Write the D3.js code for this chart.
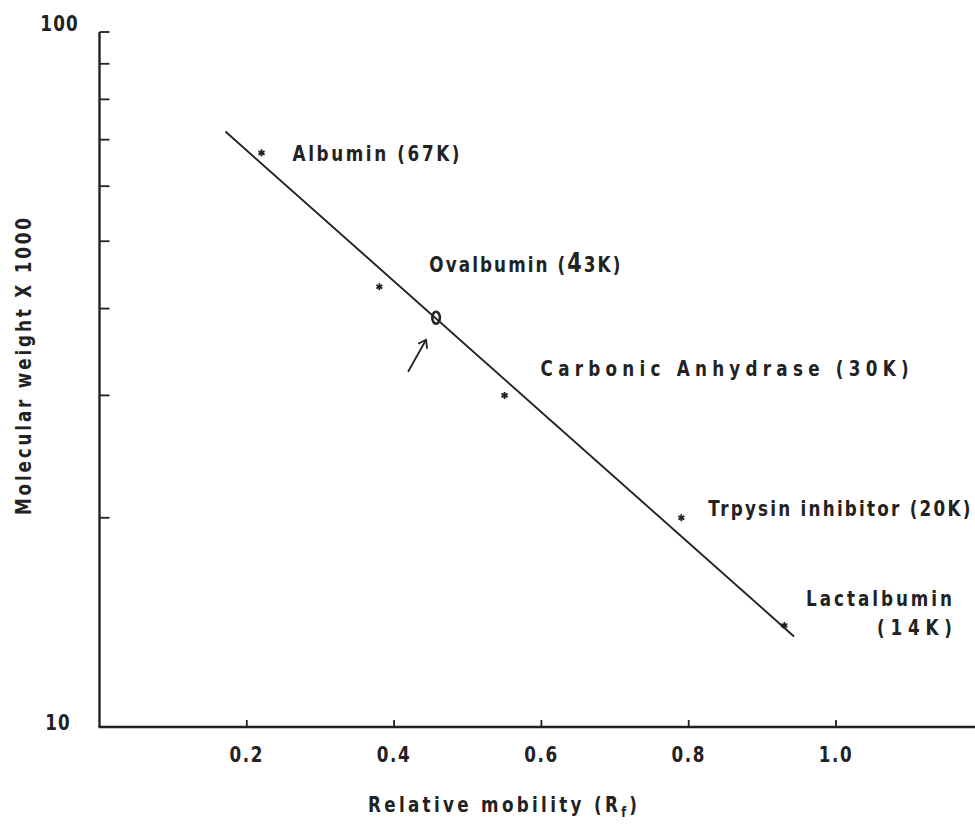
<html>
<head>
<style>
body { margin: 0; background: #fff; }
text { font-family: "DejaVu Sans", sans-serif; font-weight: bold; fill: #222; }
</style>
</head>
<body>
<svg id="chart"></svg>
<script src="https://cdnjs.cloudflare.com/ajax/libs/d3/7.8.5/d3.min.js"></script>
<script type="text/javascript">

// protein markers (Rf, MW x 1000)
var proteins = ["Albumin (67K)", "Ovalbumin (43K)", "Carbonic  Anhydrase (30K)", "Trpysin inhibitor (20K)", "Lactalbumin (14K)"]
var rf = [0.22, 0.38, 0.55, 0.79, 0.93]
var mw = [67, 43, 30, 20, 14]

// unknown sample
var sampleRf = 0.457
var sampleMw = 38.8

// fitted line ends
var fitRf = [0.171, 0.943]
var fitMw = [71.9, 13.5]

var xTicks = [0.2, 0.4, 0.6, 0.8, 1.0]
var yTicks = [10, 20, 30, 40, 50, 60, 70, 80, 90, 100]
var yLabels = [10, 100]

var W = 975, H = 824
var svg = d3.select("#chart").attr("width", W).attr("height", H)

var x = d3.scaleLinear().domain([0, 1]).range([99.5, 836])
var y = d3.scaleLog().domain([10, 100]).range([727, 32])

// narrow, spaced lettering like the typed original
var sx = 0.8
function narrow(px, py, len, rot) {
  var t = svg.append("text")
    .attr("transform", "translate(" + px + "," + py + ")" + (rot ? " rotate(" + rot + ")" : "") + " scale(" + sx + ",1)")
    .attr("font-size", 21)
  if (len) t.attr("textLength", len / sx).attr("lengthAdjust", "spacing")
  return t
}

// axes lines
svg.append("line")
  .attr("x1", x(0)).attr("x2", x(0))
  .attr("y1", y(100)).attr("y2", y(10))
  .attr("stroke", "#222").attr("stroke-width", 2.4)
svg.append("line")
  .attr("x1", x(0) - 1).attr("x2", W)
  .attr("y1", y(10)).attr("y2", y(10))
  .attr("stroke", "#222").attr("stroke-width", 2.4)

// y ticks point inward
svg.selectAll(".yt").data(yTicks.slice(1)).enter().append("line")
  .attr("x1", x(0)).attr("x2", x(0) + 10)
  .attr("y1", function(d) { return y(d) }).attr("y2", function(d) { return y(d) })
  .attr("stroke", "#222").attr("stroke-width", 1.8)

yLabels.forEach(function(d) {
  narrow(d == 100 ? 79 : 71, y(d) + (d == 100 ? -1 : 3))
    .attr("text-anchor", "end").attr("letter-spacing", 1.5).text(d)
})

// x ticks point up
svg.selectAll(".xt").data(xTicks).enter().append("line")
  .attr("x1", function(d) { return x(d) }).attr("x2", function(d) { return x(d) })
  .attr("y1", y(10)).attr("y2", y(10) - 7)
  .attr("stroke", "#222").attr("stroke-width", 1.8)

xTicks.forEach(function(d) {
  narrow(x(d), y(10) + 35)
    .attr("text-anchor", "middle").attr("letter-spacing", 2)
    .text(d3.format(".1f")(d))
})

// axis titles
var xt = narrow(368, 812, 269)
xt.append("tspan").text("Relative  mobility  (R")
xt.append("tspan").attr("font-size", 14).attr("dy", 5).text("f")
xt.append("tspan").attr("dy", -5).text(")")

narrow(31, 515, 297, -90).text("Molecular  weight  X  1000")

// fitted line
svg.append("line")
  .attr("x1", x(fitRf[0])).attr("y1", y(fitMw[0]))
  .attr("x2", x(fitRf[1])).attr("y2", y(fitMw[1]))
  .attr("stroke", "#222").attr("stroke-width", 1.9)

// markers
var star = d3.symbol().type(d3.symbolAsterisk).size(34)
svg.selectAll(".pt").data(rf).enter().append("path")
  .attr("d", star)
  .attr("transform", function(d, i) { return "translate(" + x(d) + "," + y(mw[i]) + ")" })
  .attr("stroke", "#222").attr("stroke-width", 1.8).attr("fill", "none")

// label placement relative to each marker
var labelDx = [31, 50, 36, 27, 0]
var labelDy = [8, -15, -19, -2, 0]
var labelLen = [167, 191, 368, 262, 146]
proteins.forEach(function(name, i) {
  var px = x(rf[i]), py = y(mw[i])
  if (i == 4) {
    var parts = name.split(" ")
    narrow(806, py - 19, labelLen[i]).text(parts[0])
    narrow(877, py + 10, 75).text(parts[1])
    return
  }
  var t = narrow(px + labelDx[i], py + labelDy[i], labelLen[i])
  if (i == 1) {
    t.append("tspan").text("Ovalbumin (")
    t.append("tspan").attr("font-size", 26).text("4")
    t.append("tspan").text("3K)")
  } else {
    t.text(name)
  }
})

// unknown sample mark and arrow
svg.append("ellipse")
  .attr("cx", x(sampleRf)).attr("cy", y(sampleMw))
  .attr("rx", 3.8).attr("ry", 6)
  .attr("fill", "none").attr("stroke", "#222").attr("stroke-width", 2.6)

var ax = x(sampleRf) - 10, ay = y(sampleMw) + 22
svg.append("path")
  .attr("d", "M" + (ax - 18) + "," + (ay + 32) + "L" + ax + "," + ay)
  .attr("stroke", "#222").attr("stroke-width", 1.8).attr("fill", "none")
svg.append("path")
  .attr("d", "M" + (ax - 8) + "," + (ay + 4) + "L" + ax + "," + ay + "L" + (ax + 1) + "," + (ay + 9))
  .attr("stroke", "#222").attr("stroke-width", 1.8).attr("fill", "none")

</script>
</body>
</html>
